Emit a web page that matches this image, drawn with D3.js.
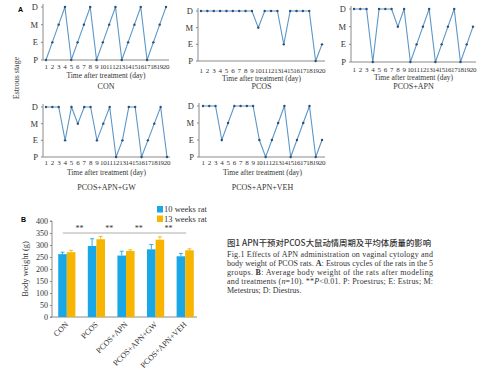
<!DOCTYPE html>
<html>
<head>
<meta charset="utf-8">
<script src="https://cdn.jsdelivr.net/npm/d3@7"></script>
<style>
  body { margin: 0; background: #fff; }
  svg { display: block; font-family: "Liberation Serif", serif; }
</style>
</head>
<body>
<svg id="chart" width="500" height="376"></svg>
<script>
// стадии цикла: P=0, E=1, M=2, D=3
const stages = ["P", "E", "M", "D"];
const days = d3.range(1, 21);

const conStage    = ["P","E","M","D","P","E","M","D","P","E","M","D","P","E","M","D","P","E","M","D"];
const pcosStage   = ["D","D","D","D","D","D","D","D","D","M","D","D","D","E","D","D","D","D","P","E"];
const apnStage    = ["D","D","D","P","D","D","D","M","D","P","E","M","D","P","E","M","D","P","E","M"];
const gwStage     = ["D","D","D","E","D","M","D","D","E","M","D","P","E","D","D","P","E","M","D","P"];
const vehStage    = ["D","D","D","E","M","D","D","D","D","E","P","E","M","D","P","E","M","D","P","E"];

// панель B
const groups = ["CON", "PCOS", "PCOS+APN", "PCOS+APN+GW", "PCOS+APN+VEH"];
const seriesNames = ["10 weeks rat", "13 weeks rat"];
const weight10 = [262, 296, 256, 282, 253];
const weight13 = [270, 324, 275, 322, 278];
const err10 = [8, 30, 18, 20, 12];
const err13 = [8, 12, 5, 12, 6];
const yTicks = [0, 50, 100, 150, 200, 250, 300, 350, 400];

const lineColor = "#5b96c8";
const dotColor = "#2d4f73";
const axisColor = "#8a8a8a";
const barColors = ["#19a7e6", "#f7b500"];

const svg = d3.select("#chart");

// расположение панелей A
const panels = [
  {name: "CON",          data: conStage,  ax: 43,  x1: 46,  x2: 166, yD: 7,   yP: 60,  tickY: 69,  titleY: 78,  nameY: 89},
  {name: "PCOS",         data: pcosStage, ax: 198, x1: 201, x2: 322, yD: 11,  yP: 61,  tickY: 73,  titleY: 81,  nameY: 89},
  {name: "PCOS+APN",     data: apnStage,  ax: 351, x1: 354, x2: 473, yD: 9,   yP: 62,  tickY: 72,  titleY: 80,  nameY: 89},
  {name: "PCOS+APN+GW",  data: gwStage,   ax: 43,  x1: 46,  x2: 167, yD: 107, yP: 157, tickY: 165, titleY: 175, nameY: 190},
  {name: "PCOS+APN+VEH", data: vehStage,  ax: 199, x1: 203, x2: 322, yD: 106, yP: 157, tickY: 165, titleY: 175, nameY: 190}
];

function drawStagePanel(p) {
  const g = svg.append("g");
  const scX = d3.scalePoint().domain(days).range([p.x1, p.x2]);
  const scY = d3.scalePoint().domain(stages).range([p.yP, p.yD]);

  // оси
  g.append("line").attr("x1", p.ax).attr("x2", p.ax).attr("y1", p.yD - 3).attr("y2", p.yP)
    .attr("stroke", axisColor).attr("stroke-width", 1);
  g.append("line").attr("x1", p.ax).attr("x2", p.x2 + 3).attr("y1", p.yP).attr("y2", p.yP)
    .attr("stroke", axisColor).attr("stroke-width", 1);

  g.selectAll(".stg").data(stages).enter().append("text")
    .attr("x", p.ax - 5).attr("y", d => scY(d) + 3)
    .attr("text-anchor", "end").attr("font-size", 8.5).attr("fill", "#333")
    .text(d => d);
  g.selectAll(".stgTick").data(stages).enter().append("line")
    .attr("x1", p.ax - 2).attr("x2", p.ax).attr("y1", d => scY(d)).attr("y2", d => scY(d))
    .attr("stroke", axisColor);

  g.selectAll(".day").data(days).enter().append("text")
    .attr("x", d => scX(d)).attr("y", p.tickY)
    .attr("text-anchor", "middle").attr("font-size", 7).attr("fill", "#333")
    .attr("letter-spacing", -0.3)
    .text(d => d);

  g.append("text").attr("x", (p.x1 + p.x2) / 2).attr("y", p.titleY)
    .attr("text-anchor", "middle").attr("font-size", 7.5).attr("fill", "#333")
    .text("Time after treatment (day)");
  g.append("text").attr("x", (p.x1 + p.x2) / 2).attr("y", p.nameY)
    .attr("text-anchor", "middle").attr("font-size", 8).attr("fill", "#333")
    .text(p.name);

  const pts = days.map((d, i) => ({day: d, st: p.data[i]}));
  const line = d3.line().x(d => scX(d.day)).y(d => scY(d.st));
  g.append("path").datum(pts).attr("d", line)
    .attr("fill", "none").attr("stroke", lineColor).attr("stroke-width", 1.1);
  g.selectAll(".dot").data(pts).enter().append("circle")
    .attr("cx", d => scX(d.day)).attr("cy", d => scY(d.st)).attr("r", 1.2)
    .attr("fill", dotColor);
}

panels.forEach(drawStagePanel);

svg.append("text").attr("x", 18).attr("y", 12).attr("font-family", "Liberation Sans")
  .attr("font-weight", "bold").attr("font-size", 7).text("A");
svg.append("text").attr("transform", "translate(19,78) rotate(-90)")
  .attr("text-anchor", "middle").attr("font-size", 8).attr("fill", "#444")
  .text("Estrous stage");

// панель B: гистограмма массы тела
const area = {left: 52, right: 200, top: 221, bottom: 317};
const scY = d3.scaleLinear().domain([0, 400]).range([area.bottom, area.top]);
const scX = d3.scaleBand().domain(groups).range([area.left, area.right]).paddingInner(0.42).paddingOuter(0.21);
const scX1 = d3.scaleBand().domain(seriesNames).range([0, scX.bandwidth()]);

const gB = svg.append("g");
const yAxis = gB.append("g").attr("transform", `translate(${area.left},0)`)
  .call(d3.axisLeft(scY).tickValues(yTicks).tickSize(2).tickPadding(2));
yAxis.selectAll("text").attr("font-family", "Liberation Serif").attr("font-size", 8).attr("fill", "#333");
yAxis.selectAll("line, path").attr("stroke", axisColor);
yAxis.select(".domain").attr("d", `M-2,${area.bottom}H0V${area.top}H-2`);

gB.append("line").attr("x1", area.left).attr("x2", area.right - 3)
  .attr("y1", area.bottom).attr("y2", area.bottom).attr("stroke", axisColor);

const bars = [];
groups.forEach((g, i) => {
  bars.push({g, s: seriesNames[0], v: weight10[i], e: err10[i], c: barColors[0]});
  bars.push({g, s: seriesNames[1], v: weight13[i], e: err13[i], c: barColors[1]});
});

gB.selectAll(".err").data(bars).enter().append("path")
  .attr("d", d => {
    const cx = scX(d.g) + scX1(d.s) + scX1.bandwidth() / 2;
    const y0 = scY(d.v), y1 = scY(d.v + d.e);
    return `M${cx},${y0}V${y1}M${cx - 2},${y1}H${cx + 2}`;
  })
  .attr("stroke", d => d.c).attr("stroke-width", 0.9).attr("fill", "none");

gB.selectAll(".bar").data(bars).enter().append("rect")
  .attr("x", d => scX(d.g) + scX1(d.s))
  .attr("y", d => scY(d.v))
  .attr("width", scX1.bandwidth())
  .attr("height", d => area.bottom - scY(d.v))
  .attr("fill", d => d.c);

gB.selectAll(".xl").data(groups).enter().append("text")
  .attr("transform", d => `translate(${scX(d) + scX.bandwidth() / 2 + 2},${area.bottom + 8}) rotate(-45)`)
  .attr("text-anchor", "end").attr("font-size", 8).attr("fill", "#333")
  .text(d => d);

gB.append("text").attr("transform", `translate(28,${(area.top + area.bottom) / 2}) rotate(-90)`)
  .attr("text-anchor", "middle").attr("font-size", 8.5).attr("fill", "#333")
  .text("Body weight (g)");

// значимость
const sigY = 233;
const centers = groups.map(g => scX(g) + scX.bandwidth() / 2);
for (let i = 0; i < groups.length - 1; i++) {
  gB.append("line").attr("x1", centers[i] - 4 + (i === 0 ? 0 : 5)).attr("x2", centers[i + 1] + 1)
    .attr("y1", sigY).attr("y2", sigY).attr("stroke", "#999").attr("stroke-width", 0.8);
  gB.append("text").attr("x", (centers[i] + centers[i + 1]) / 2 - 2).attr("y", sigY - 2)
    .attr("text-anchor", "middle").attr("font-size", 8).attr("fill", "#333").text("**");
}

// легенда
seriesNames.forEach((s, i) => {
  gB.append("rect").attr("x", 157).attr("y", 206 + i * 9.5).attr("width", 6).attr("height", 6.5)
    .attr("fill", barColors[i]);
  gB.append("text").attr("x", 164).attr("y", 212 + i * 9.5).attr("font-size", 8.5).attr("fill", "#333")
    .text(s);
});

svg.append("text").attr("x", 21).attr("y", 222).attr("font-family", "Liberation Sans")
  .attr("font-weight", "bold").attr("font-size", 7).text("B");

// подпись к рисунку
const cap = svg.append("g").attr("fill", "#333");
cap.append("text").attr("x", 227).attr("y", 246)
  .attr("font-family", "Noto Sans CJK SC").attr("font-size", 8.5).attr("font-weight", 500)
  .attr("textLength", 204).attr("lengthAdjust", "spacingAndGlyphs")
  .text("图1 APN干预对PCOS大鼠动情周期及平均体质量的影响");

const capLines = [
  [["Fig.1  Effects of APN administration on vaginal cytology and", ""]],
  [["body weight of PCOS rats. ", ""], ["A", "b"], [": Estrous cycles of the rats in the 5", ""]],
  [["groups. ", ""], ["B", "b"], [": Average body weight of the rats after modeling", ""]],
  [["and treatments (", ""], ["n", "i"], ["=10). **", ""], ["P", "i"], ["<0.01. P: Proestrus; E: Estrus; M:", ""]],
  [["Metestrus; D: Diestrus.", ""]]
];
capLines.forEach((ln, i) => {
  const t = cap.append("text").attr("x", 227).attr("y", 257 + i * 9).attr("font-size", 8);
  if (i < capLines.length - 1) t.attr("textLength", 206).attr("lengthAdjust", "spacing");
  ln.forEach(([s, f]) => {
    const ts = t.append("tspan").text(s);
    if (f === "b") ts.attr("font-weight", "bold");
    if (f === "i") ts.attr("font-style", "italic");
  });
});
</script>
</body>
</html>
